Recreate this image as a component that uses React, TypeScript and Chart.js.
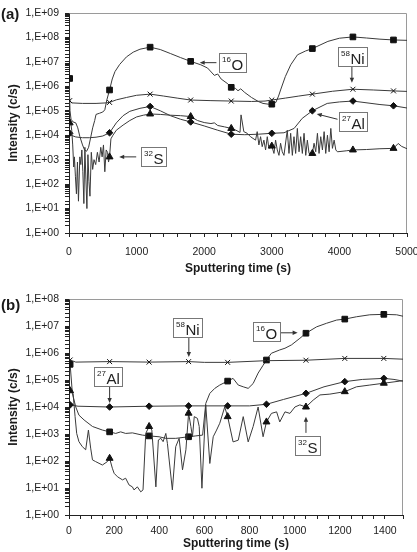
import React, { useEffect, useRef } from 'react';
import { Chart, registerables } from 'chart.js';

Chart.register(...registerables);

const FONT = "'Liberation Sans', Arial, Helvetica, sans-serif";

// ---------------- Panel (a) ----------------
const markerTimesA = [10, 600, 1200, 1800, 2400, 3000, 3600, 4200, 4800];
const xTicksA = [0, 1000, 2000, 3000, 4000, 5000];

const timeO_A = [0, 10, 15, 30, 60, 100, 130, 160, 200, 230, 260, 290, 320, 350, 380, 400, 450, 500, 530, 560, 600, 640, 680, 750, 850, 950, 1050, 1200, 1350, 1500, 1650, 1800, 1950, 2050, 2150, 2200, 2250, 2350, 2400, 2460, 2500, 2540, 2600, 2700, 2800, 2870, 2950, 3000, 3060, 3100, 3130, 3200, 3280, 3380, 3500, 3600, 3830, 4000, 4200, 4400, 4600, 4800, 5000];
const valO_A = [2.1e6, 2.1e6, 1.0e5, 4.5e4, 3.5e4, 3.2e4, 2.0e4, 8.9e3, 4.0e3, 2.5e3, 2.2e3, 3.2e3, 7.9e3, 2.0e4, 4.0e4, 7.1e4, 7.9e4, 8.9e4, 1.1e5, 2.8e5, 7.1e5, 2.0e6, 4.0e6, 7.9e6, 1.6e7, 2.5e7, 3.3e7, 4.0e7, 3.2e7, 2.2e7, 1.5e7, 1.05e7, 7.6e6, 5.6e6, 2.8e6, 3.2e6, 2.0e6, 1.26e6, 9.1e5, 8.3e5, 6.6e5, 7.9e5, 5.6e5, 3.5e5, 2.4e5, 2.0e5, 1.86e5, 1.86e5, 2.2e5, 4.0e5, 7.1e5, 2.5e6, 7.6e6, 1.95e7, 2.8e7, 3.5e7, 6.9e7, 9.3e7, 1.05e8, 9.5e7, 8.5e7, 7.9e7, 7.6e7];

const timeNi_A = [0, 10, 40, 200, 400, 550, 600, 700, 850, 1000, 1200, 1400, 1600, 1800, 2100, 2400, 2700, 2900, 3000, 3200, 3400, 3600, 3900, 4200, 4500, 4800, 5000];
const valNi_A = [3.0e5, 2.6e5, 2.1e5, 2.0e5, 2.0e5, 2.1e5, 2.2e5, 2.8e5, 3.5e5, 4.3e5, 4.8e5, 4.0e5, 3.3e5, 2.75e5, 2.6e5, 2.5e5, 2.4e5, 2.5e5, 2.75e5, 3.3e5, 4.0e5, 4.8e5, 6.3e5, 7.6e5, 7.1e5, 6.5e5, 6.2e5];

const timeAl_A = [0, 10, 30, 100, 200, 300, 400, 500, 600, 700, 800, 900, 1050, 1200, 1350, 1500, 1650, 1800, 2000, 2200, 2400, 2600, 2800, 3000, 3180, 3330, 3450, 3600, 3820, 4000, 4200, 4600, 4800, 5000];
const valAl_A = [1.26e4, 1.2e4, 1.0e4, 8.5e3, 7.9e3, 7.9e3, 8.3e3, 9.3e3, 1.26e4, 3.2e4, 6.3e4, 9.5e4, 1.26e5, 1.5e5, 1.0e5, 6.3e4, 4.5e4, 3.5e4, 2.4e4, 1.6e4, 1.1e4, 1.05e4, 1.1e4, 1.2e4, 1.26e4, 1.9e4, 4.9e4, 1.0e5, 2.0e5, 2.3e5, 2.5e5, 1.8e5, 1.6e5, 1.3e5];

const timeS_A = [0, 10, 20, 40, 55, 70, 80, 95, 110, 125, 140, 160, 175, 190, 205, 220, 235, 250, 265, 280, 295, 310, 330, 350, 370, 395, 420, 445, 470, 490, 510, 530, 550, 570, 585, 600, 620, 650, 700, 800, 900, 1000, 1100, 1200, 1350, 1500, 1650, 1800, 1900, 2000, 2100, 2150, 2200, 2300, 2400, 2470, 2530, 2545, 2586, 2636, 2685, 2760, 2784, 2809, 2834, 2858, 2883, 2908, 2933, 2957, 3000, 3032, 3056, 3081, 3106, 3130, 3155, 3180, 3229, 3254, 3279, 3304, 3328, 3353, 3378, 3403, 3427, 3452, 3477, 3502, 3526, 3551, 3600, 3625, 3650, 3675, 3699, 3724, 3749, 3774, 3798, 3823, 3848, 3873, 3897, 3922, 3947, 3971, 4100, 4200, 4400, 4600, 4800, 4870, 4920, 5000];
const valS_A = [3.2e4, 3.2e4, 4.5e4, 1.6e4, 4.0e3, 500, 1.3e3, 200, 40, 800, 20, 1.3e3, 630, 2.5e3, 320, 16, 3.2e3, 160, 10, 1.6e3, 130, 32, 2.0e3, 400, 1.0e3, 630, 2.0e3, 800, 3.2e3, 1.3e3, 4.0e3, 320, 2.5e3, 2.0e3, 800, 1.3e3, 7.1e3, 1.0e4, 1.6e4, 2.6e4, 4.0e4, 5.6e4, 6.6e4, 7.4e4, 7.1e4, 6.6e4, 6.3e4, 5.8e4, 4.0e4, 3.3e4, 3.0e4, 3.2e4, 2.5e4, 2.2e4, 1.9e4, 1.6e4, 1.3e4, 6.8e4, 1.4e4, 1.2e4, 8.7e3, 6.3e3, 1.4e4, 4.0e3, 8.7e3, 3.4e3, 6.3e3, 2.5e3, 8.7e3, 2.9e3, 3.6e3, 1.8e3, 6.3e3, 2.5e3, 1.5e3, 4.7e3, 2.1e3, 1.5e3, 1.6e4, 1.8e3, 1.2e4, 1.5e3, 8.7e3, 1.8e3, 1.9e4, 2.1e3, 8.7e3, 1.8e3, 1.2e4, 1.5e3, 6.3e3, 1.8e3, 1.8e3, 4.7e3, 2.1e3, 1.2e4, 1.8e3, 8.7e3, 2.5e3, 1.4e4, 1.8e3, 1.0e4, 2.1e3, 1.9e4, 2.9e3, 6.3e3, 2.5e3, 2.1e3, 2.3e3, 2.5e3, 2.6e3, 2.8e3, 2.9e3, 4.6e3, 3.5e3, 2.8e3];

// ---------------- Panel (b) ----------------
const markerTimesB = [5, 180, 355, 530, 703, 875, 1050, 1222, 1395];
const xTicksB = [0, 200, 400, 600, 800, 1000, 1200, 1400];

const timeO_B = [0, 5, 15, 30, 44, 67, 104, 148, 180, 207, 229, 251, 281, 325, 355, 399, 429, 473, 530, 562, 592, 606, 624, 646, 668, 703, 727, 750, 772, 794, 816, 838, 860, 875, 897, 934, 957, 986, 1023, 1050, 1097, 1141, 1186, 1222, 1274, 1333, 1395, 1452, 1480];
const valO_B = [3.8e5, 3.8e5, 3.2e4, 1.0e4, 5.0e3, 3.3e3, 1.9e3, 1.4e3, 1.2e3, 1.05e3, 1.2e3, 1.05e3, 1.1e3, 910, 850, 790, 690, 690, 790, 850, 910, 1.35e4, 3.2e4, 4.9e4, 6.5e4, 9.1e4, 1.15e5, 6.5e4, 5.6e4, 4.9e4, 7.4e4, 1.8e5, 3.5e5, 5.5e5, 9.8e5, 1.3e6, 1.5e6, 2.0e6, 3.5e6, 5.4e6, 9.3e6, 1.26e7, 1.66e7, 1.8e7, 2.2e7, 2.6e7, 2.7e7, 2.6e7, 2.3e7];

const timeNi_B = [0, 5, 30, 180, 355, 530, 600, 703, 875, 1050, 1222, 1395, 1480];
const valNi_B = [6.3e5, 5.5e5, 4.6e5, 4.8e5, 4.6e5, 4.8e5, 4.5e5, 4.5e5, 5.2e5, 5.4e5, 6.3e5, 6.3e5, 5.9e5];

const timeAl_B = [0, 5, 40, 180, 355, 530, 703, 800, 875, 950, 1050, 1130, 1222, 1300, 1395, 1440, 1480];
const valAl_B = [1.2e4, 1.2e4, 1.07e4, 1.0e4, 1.07e4, 1.1e4, 1.1e4, 1.1e4, 1.26e4, 1.9e4, 3.2e4, 5.6e4, 8.7e4, 1.05e5, 1.15e5, 1.05e5, 9.1e4];

const timeS_B = [0, 5, 18, 27, 34, 44, 59, 74, 86, 96, 104, 118, 148, 170, 180, 192, 200, 215, 237, 251, 266, 281, 288, 303, 318, 328, 340, 355, 367, 385, 396, 407, 417, 429, 436, 458, 473, 488, 503, 518, 530, 540, 547, 555, 569, 577, 589, 606, 624, 639, 654, 668, 690, 703, 727, 750, 772, 794, 816, 838, 860, 875, 897, 920, 934, 957, 979, 1001, 1023, 1050, 1082, 1112, 1156, 1222, 1274, 1333, 1395, 1466, 1480];
const valS_B = [4.0e4, 4.0e4, 3.2e4, 4.4e3, 1.05e3, 520, 340, 260, 1.4e3, 300, 110, 95, 71, 95, 126, 54, 35, 26, 20, 23, 13, 11, 8.5, 11, 7.2, 8.5, 1.05e3, 1.9e3, 1.4e3, 11, 600, 690, 520, 1.05e3, 450, 8.5, 340, 690, 47, 260, 5.9e3, 1.9e3, 790, 4.4e3, 3.8e3, 1.9e3, 9.8, 1.2e4, 81, 790, 1.4e3, 2.5e3, 1.0e4, 4.4e3, 510, 590, 4.4e3, 510, 1.9e3, 1.0e4, 790, 2.8e3, 5.8e3, 6.6e3, 2.8e3, 6.6e3, 5.8e3, 1.0e4, 1.2e4, 1.0e4, 1.8e4, 2.8e4, 3.0e4, 3.7e4, 5.6e4, 6.5e4, 7.6e4, 9.1e4, 9.3e4];

// Annotation labels (isotope boxes + arrows), anchored in data coordinates
type Note = { mass: string; sym: string; box: [number, number]; from: [number, number]; to: [number, number] };
const notesA: Note[] = [
  { mass: '16', sym: 'O', box: [2426, 9.3e6], from: [2181, 9.3e6], to: [1933, 9.3e6] },
  { mass: '58', sym: 'Ni', box: [4199, 1.6e7], from: [4185, 6.3e6], to: [4185, 1.4e6] },
  { mass: '27', sym: 'Al', box: [4206, 3.5e4], from: [3972, 4.5e4], to: [3665, 7.4e4] },
  { mass: '32', sym: 'S', box: [1246, 1.3e3], from: [994, 1.3e3], to: [742, 1.3e3] },
];
const notesB: Note[] = [
  { mass: '58', sym: 'Ni', box: [526, 9.1e6], from: [531, 3.6e6], to: [531, 7.1e5] },
  { mass: '27', sym: 'Al', box: [172, 1.4e5], from: [180, 5.5e4], to: [180, 1.4e4] },
  { mass: '16', sym: 'O', box: [875, 6.0e6], from: [939, 5.6e6], to: [1013, 5.6e6] },
  { mass: '32', sym: 'S', box: [1059, 390], from: [1050, 1.1e3], to: [1050, 4.4e3] },
];

type Series = { label: string; times: number[]; vals: number[]; style: string; r: number };

function supLabel(v: number): string {
  const e = Math.round(Math.log10(v));
  if (Math.abs(v - Math.pow(10, e)) > 1e-6 * v) return '';
  return '1,E+' + String(e).padStart(2, '0');
}

function makeDecor(notes: Note[], letter: string, letterY: number) {
  return {
    id: 'decor',
    beforeDatasetsDraw(chart: any) {
      const { ctx, chartArea: a } = chart;
      ctx.save();
      ctx.strokeStyle = '#9a9a9a';
      ctx.lineWidth = 1;
      ctx.beginPath();
      ctx.moveTo(Math.round(a.left) + 0.5, Math.round(a.top) + 0.5);
      ctx.lineTo(Math.round(a.right) - 0.5, Math.round(a.top) + 0.5);
      ctx.lineTo(Math.round(a.right) - 0.5, Math.round(a.bottom));
      ctx.stroke();
      ctx.restore();
    },
    afterDraw(chart: any) {
      const { ctx } = chart;
      const xs = chart.scales.x;
      const ys = chart.scales.y;
      ctx.save();
      ctx.fillStyle = '#1a1a1a';
      ctx.font = `bold 15px ${FONT}`;
      ctx.textAlign = 'left';
      ctx.textBaseline = 'middle';
      ctx.fillText(letter, 1, letterY);
      for (const n of notes) {
        // arrow
        const x1 = xs.getPixelForValue(n.from[0]);
        const y1 = ys.getPixelForValue(n.from[1]);
        const x2 = xs.getPixelForValue(n.to[0]);
        const y2 = ys.getPixelForValue(n.to[1]);
        const ang = Math.atan2(y2 - y1, x2 - x1);
        ctx.strokeStyle = '#333';
        ctx.fillStyle = '#333';
        ctx.lineWidth = 1;
        ctx.beginPath();
        ctx.moveTo(x1, y1);
        ctx.lineTo(x2 - Math.cos(ang) * 3, y2 - Math.sin(ang) * 3);
        ctx.stroke();
        ctx.beginPath();
        ctx.moveTo(x2, y2);
        ctx.lineTo(x2 - Math.cos(ang) * 5 + Math.sin(ang) * 2.2, y2 - Math.sin(ang) * 5 - Math.cos(ang) * 2.2);
        ctx.lineTo(x2 - Math.cos(ang) * 5 - Math.sin(ang) * 2.2, y2 - Math.sin(ang) * 5 + Math.cos(ang) * 2.2);
        ctx.closePath();
        ctx.fill();
        // box
        const cx = xs.getPixelForValue(n.box[0]);
        const cy = ys.getPixelForValue(n.box[1]);
        ctx.font = `8px ${FONT}`;
        const mw = ctx.measureText(n.mass).width;
        ctx.font = `15px ${FONT}`;
        const sw = ctx.measureText(n.sym).width;
        const w = Math.round(mw + sw + 6);
        const h = 19;
        const left = Math.round(cx - w / 2) + 0.5;
        const top = Math.round(cy - h / 2) + 0.5;
        ctx.fillStyle = '#fff';
        ctx.fillRect(left, top, w, h);
        ctx.strokeStyle = '#777';
        ctx.strokeRect(left, top, w, h);
        ctx.fillStyle = '#222';
        ctx.textBaseline = 'top';
        ctx.font = `8px ${FONT}`;
        ctx.fillText(n.mass, left + 2.5, top + 2.5);
        ctx.textBaseline = 'alphabetic';
        ctx.font = `15px ${FONT}`;
        ctx.fillText(n.sym, left + 3 + mw, top + h - 3);
      }
      ctx.restore();
    },
  };
}

type PanelOpts = {
  series: Series[];
  markers: number[];
  xMax: number;
  xStep: number;
  xLabels: number[];
  yMax: number;
  padTop: number;
  padRight: number;
  xAxisHeight: number;
  xTickPad: number;
  xTitlePad: number;
  notes: Note[];
  letter: string;
  letterY: number;
};

function buildConfig(p: PanelOpts): any {
  const markerSet = new Set(p.markers);
  const labelSet = new Set(p.xLabels);
  const datasets = p.series.map((s) => ({
    label: s.label,
    data: s.times.map((t, i) => ({ x: t, y: s.vals[i] })),
    borderColor: '#3a3a3a',
    borderWidth: 1,
    tension: 0,
    pointStyle: s.style,
    pointBackgroundColor: '#111',
    pointBorderColor: '#111',
    pointBorderWidth: 1,
    pointRadius: (ctx: any) => (ctx.raw && markerSet.has(ctx.raw.x) ? s.r : 0),
    pointHoverRadius: 0,
  }));
  const tickFont = { family: FONT, size: 10.5 };
  const titleFont = { family: FONT, size: 12, weight: 'bold' as const };
  return {
    type: 'line',
    data: { datasets },
    plugins: [makeDecor(p.notes, p.letter, p.letterY)],
    options: {
      animation: false,
      responsive: false,
      devicePixelRatio: 1,
      events: [],
      layout: { padding: { left: 0, right: p.padRight, top: p.padTop, bottom: 0 } },
      plugins: { legend: { display: false }, tooltip: { enabled: false } },
      scales: {
        x: {
          type: 'linear',
          min: 0,
          max: p.xMax,
          afterFit: (s: any) => {
            s.height = p.xAxisHeight;
            s.paddingLeft = 0;
            s.paddingRight = 0;
          },
          ticks: {
            stepSize: p.xStep,
            autoSkip: false,
            maxRotation: 0,
            minRotation: 0,
            padding: p.xTickPad,
            font: tickFont,
            color: '#222',
            callback: (v: any) => (labelSet.has(Number(v)) ? String(v) : ''),
          },
          grid: { display: true, drawOnChartArea: false, drawTicks: true, tickLength: 4, color: '#222', lineWidth: 1 },
          border: { display: true, color: '#222', width: 1 },
          title: { display: true, text: 'Sputtering time (s)', font: titleFont, color: '#1a1a1a', padding: { top: 0, bottom: p.xTitlePad } },
        },
        y: {
          type: 'logarithmic',
          min: 1,
          max: p.yMax,
          afterFit: (s: any) => {
            s.width = 69;
            s.paddingTop = 0;
            s.paddingBottom = 0;
          },
          ticks: {
            autoSkip: false,
            padding: 6,
            font: tickFont,
            color: '#222',
            callback: (v: any) => supLabel(Number(v)),
          },
          grid: { display: true, drawOnChartArea: false, drawTicks: true, tickLength: 4, color: '#222', lineWidth: 1 },
          border: { display: true, color: '#222', width: 1 },
          title: { display: true, text: 'Intensity (c/s)', font: titleFont, color: '#1a1a1a', padding: { top: 6, bottom: 0 } },
        },
      },
    },
  };
}

export default function App() {
  const refA = useRef<HTMLCanvasElement>(null);
  const refB = useRef<HTMLCanvasElement>(null);

  useEffect(() => {
    const seriesA: Series[] = [
      { label: '32S', times: timeS_A, vals: valS_A, style: 'triangle', r: 4 },
      { label: '27Al', times: timeAl_A, vals: valAl_A, style: 'rectRot', r: 3.3 },
      { label: '58Ni', times: timeNi_A, vals: valNi_A, style: 'crossRot', r: 3.5 },
      { label: '16O', times: timeO_A, vals: valO_A, style: 'rect', r: 4 },
    ];
    const seriesB: Series[] = [
      { label: '32S', times: timeS_B, vals: valS_B, style: 'triangle', r: 4 },
      { label: '27Al', times: timeAl_B, vals: valAl_B, style: 'rectRot', r: 3.3 },
      { label: '58Ni', times: timeNi_B, vals: valNi_B, style: 'crossRot', r: 3.5 },
      { label: '16O', times: timeO_B, vals: valO_B, style: 'rect', r: 4 },
    ];
    const a = new Chart(refA.current as HTMLCanvasElement, buildConfig({
      series: seriesA,
      markers: markerTimesA,
      xMax: 5000,
      xStep: 200,
      xLabels: xTicksA,
      yMax: 1e9,
      padTop: 13,
      padRight: 10,
      xAxisHeight: 49,
      xTickPad: 8.5,
      xTitlePad: 6,
      notes: notesA,
      letter: '(a)',
      letterY: 15,
    }));
    const b = new Chart(refB.current as HTMLCanvasElement, buildConfig({
      series: seriesB,
      markers: markerTimesB,
      xMax: 1480,
      xStep: 50,
      xLabels: xTicksB,
      yMax: 1e8,
      padTop: 17,
      padRight: 14,
      xAxisHeight: 37,
      xTickPad: 5.5,
      xTitlePad: 1,
      notes: notesB,
      letter: '(b)',
      letterY: 24,
    }));
    return () => {
      a.destroy();
      b.destroy();
    };
  }, []);

  return (
    <div style={{ position: 'absolute', left: 0, top: 0, width: 417, height: 552, background: '#fff' }}>
      <canvas ref={refA} width={417} height={282} style={{ position: 'absolute', left: 0, top: 0, width: 417, height: 282 }} />
      <canvas ref={refB} width={417} height={270} style={{ position: 'absolute', left: 0, top: 282, width: 417, height: 270 }} />
    </div>
  );
}
